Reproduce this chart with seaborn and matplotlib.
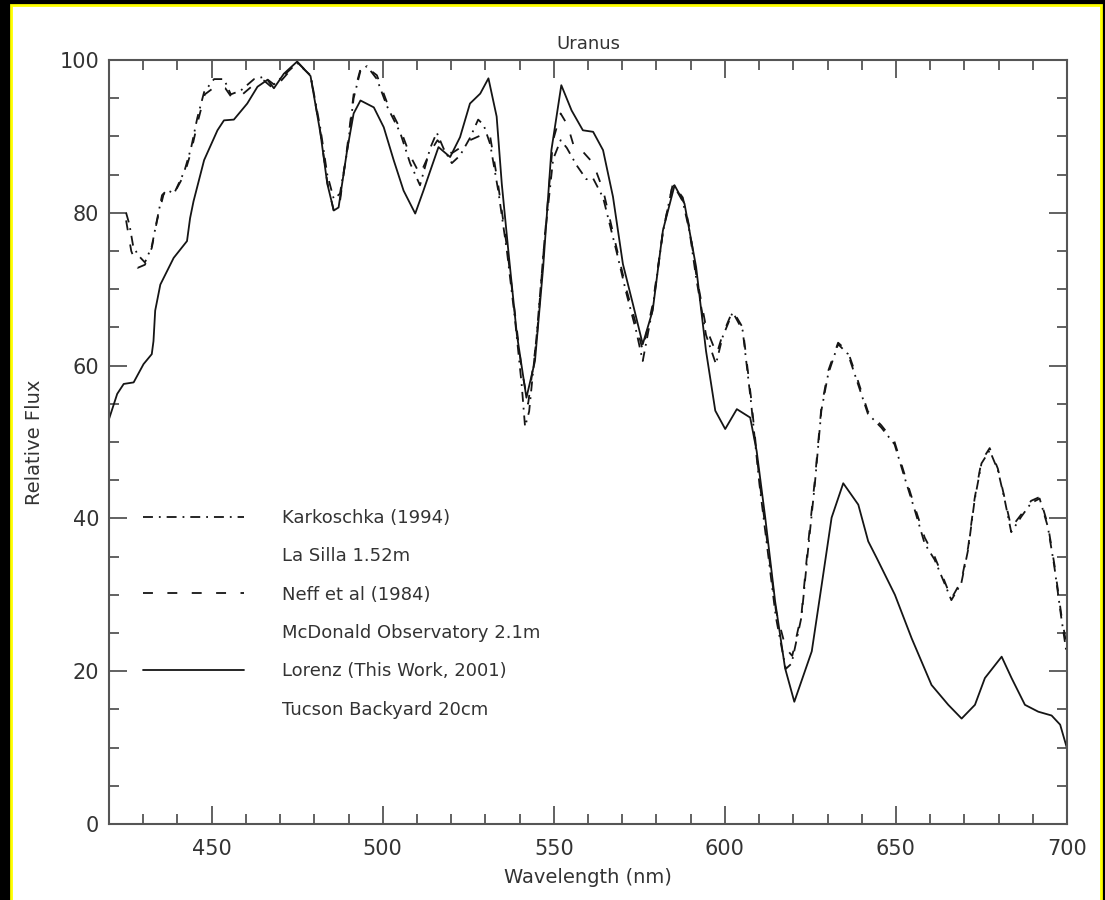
import numpy as np
import pandas as pd
import matplotlib
matplotlib.use("Agg")
import matplotlib.pyplot as plt
from matplotlib.lines import Line2D
from matplotlib.patches import Rectangle
from matplotlib.ticker import MultipleLocator
import seaborn as sns

# ---------------- data ----------------
wl_lorenz = [420, 422.4, 424.3, 427.2, 430.1, 432.5, 433.0, 433.5, 435.0, 438.9, 442.8, 443.7,
             444.7, 447.8, 451.7, 453.6, 456.5, 460.4, 463.4, 466.3, 468.2, 471.1, 475.0, 478.9,
             481.8, 483.8, 485.7, 487.1, 489.6, 491.5, 493.5, 497.4, 500.3, 503.2, 506.1, 509.5,
             511.9, 513.9, 516.3, 519.7, 522.6, 525.5, 528.5, 530.9, 533.3, 534.8, 536.7, 539.2,
             542.0, 544.5, 546.9, 549.3, 552.2, 555.2, 558.5, 561.5, 564.4, 567.3, 570.2, 573.1,
             576.0, 578.9, 581.9, 585.3, 588.2, 591.6, 594.5, 597.2, 600.1, 603.5, 607.4, 609.3,
             611.8, 614.7, 617.6, 620.3, 625.4, 628.3, 631.2, 634.6, 639.0, 641.9, 644.4, 649.7,
             654.6, 660.4, 665.3, 669.2, 673.1, 676.0, 680.9, 683.8, 687.7, 691.6, 695.5, 698.0,
             700.0]
flux_lorenz = [53.0, 56.3, 57.6, 57.8, 60.2, 61.5, 63.2, 67.2, 70.6, 74.1, 76.3, 79.3,
               81.5, 86.9, 90.8, 92.1, 92.2, 94.3, 96.5, 97.4, 96.3, 98.2, 99.8, 97.9,
               90.4, 83.8, 80.3, 80.7, 88.2, 93.0, 94.7, 93.8, 91.2, 86.9, 82.9, 79.9,
               82.9, 85.5, 88.6, 87.3, 89.9, 94.3, 95.6, 97.6, 92.6, 83.8, 75.1, 64.1,
               55.8, 60.6, 72.9, 88.2, 96.7, 93.4, 90.8, 90.6, 88.2, 82.1, 73.3, 68.1,
               62.8, 67.2, 77.7, 83.6, 81.2, 72.9, 61.9, 54.1, 51.7, 54.3, 53.2, 48.8,
               40.1, 29.1, 20.4, 16.0, 22.6, 31.3, 40.1, 44.6, 41.8, 37.0, 34.8, 30.0,
               24.3, 18.2, 15.6, 13.8, 15.6, 19.1, 21.9, 19.1, 15.6, 14.7, 14.2, 13.0,
               9.9]

wl_karkoschka = [425.0, 426.0, 427.0, 428.4, 430.5, 432.5, 434.0, 435.5, 437.0, 439.0, 442.0,
                 444.0, 445.8, 447.8, 450.7, 453.6, 455.6, 458.5, 462.4, 465.3, 468.2, 472.1,
                 475.0, 478.9, 481.8, 483.8, 485.7, 487.5, 489.6, 491.5, 493.5, 495.4, 498.3,
                 501.2, 505.1, 508.0, 510.9, 513.9, 515.8, 517.8, 520.2, 522.6, 525.5, 527.9,
                 529.5, 531.4, 533.8, 536.3, 538.6, 540.6, 541.6, 542.8, 545.0, 547.4, 549.8,
                 552.0, 553.8, 556.7, 559.5, 561.5, 564.4, 568.3, 571.2, 574.1, 576.0, 578.9,
                 581.9, 584.8, 587.7, 589.7, 591.6, 594.5, 597.4, 599.3, 602.3, 605.2, 607.6,
                 610.1, 612.5, 614.9, 617.8, 619.5, 622.4, 624.3, 626.3, 628.2, 630.2, 633.1,
                 636.0, 638.9, 641.8, 645.7, 649.6, 652.5, 655.5, 658.4, 661.3, 664.2, 666.2,
                 669.1, 671.1, 673.0, 675.0, 677.4, 679.8, 681.8, 683.7, 686.6, 689.5, 692.0,
                 694.4, 696.3, 698.3, 700.0]
flux_karkoschka = [80.0, 78.4, 75.8, 74.5, 73.5, 75.6, 79.0, 82.3, 83.0, 82.5, 85.4,
                   88.5, 92.4, 95.8, 97.5, 97.5, 95.5, 96.0, 97.5, 97.8, 96.8, 98.4,
                   99.6, 98.0, 91.0, 85.0, 81.8, 82.5, 88.0, 95.0, 98.6, 99.2, 97.5,
                   94.0, 90.5, 86.5, 83.6, 88.5, 90.5, 88.4, 86.5, 87.5, 89.8, 92.2,
                   91.5, 89.0, 82.8, 75.0, 66.3, 57.6, 52.0, 54.0, 64.0, 77.0, 87.0,
                   89.5, 88.5, 86.2, 84.4, 84.5, 82.0, 75.0, 69.5, 64.5, 60.6, 67.5,
                   77.5, 83.8, 81.5, 77.5, 71.5, 64.0, 60.2, 63.7, 67.0, 64.6, 55.4,
                   44.5, 35.8, 27.1, 20.3, 21.0, 27.1, 35.8, 44.5, 54.1, 58.9, 62.8,
                   61.5, 57.6, 53.7, 51.9, 49.7, 45.4, 41.1, 36.7, 34.6, 31.5, 29.3,
                   31.5, 35.9, 42.4, 47.2, 48.9, 46.3, 42.4, 38.2, 40.2, 42.0, 42.6,
                   38.9, 33.7, 27.1, 22.0]

wl_neff = [425.0, 426.5, 428.4, 430.5, 432.5, 434.0, 436.0, 439.0, 442.0, 444.0, 446.0,
           448.0, 451.0, 454.0, 456.0, 459.0, 462.4, 465.3, 468.2, 472.1, 475.0, 478.9,
           481.8, 483.8, 485.7, 487.3, 489.6, 491.5, 493.5, 495.4, 498.3, 501.2, 505.1,
           508.0, 510.9, 513.9, 516.0, 518.0, 520.2, 522.6, 525.5, 528.0, 530.5, 531.4,
           533.8, 536.3, 538.6, 540.6, 542.5, 545.0, 547.4, 549.8, 552.0, 554.0, 556.0,
           558.5, 561.5, 564.4, 568.3, 571.2, 574.1, 576.0, 578.9, 581.9, 584.8, 587.7,
           589.7, 591.6, 594.5, 597.6, 599.3, 602.3, 605.2, 607.6, 610.1, 612.5, 614.9,
           617.8, 619.7, 622.4, 624.3, 626.3, 628.2, 630.2, 633.1, 636.0, 638.9, 641.8,
           645.7, 649.6, 652.5, 655.5, 658.4, 661.3, 664.2, 666.2, 669.1, 671.1, 673.0,
           675.0, 677.4, 679.8, 681.8, 683.7, 686.6, 689.5, 692.0, 694.4, 696.3, 698.3,
           700.0]
flux_neff = [79.0, 75.0, 72.8, 73.2, 75.4, 78.9, 82.5, 82.5, 85.0, 88.0, 92.0,
             95.5, 96.5, 96.3, 95.0, 95.5, 96.8, 97.3, 96.2, 98.2, 99.7, 98.0,
             90.5, 84.0, 80.2, 80.8, 88.5, 95.5, 98.8, 99.0, 98.0, 94.5, 91.0,
             87.5, 85.0, 88.0, 89.5, 88.5, 87.8, 88.5, 89.5, 90.0, 90.5, 90.0,
             83.5, 75.5, 67.0, 59.5, 55.0, 63.5, 77.0, 89.5, 93.0, 91.5, 88.5,
             88.0, 86.5, 83.0, 75.5, 70.0, 65.3, 62.0, 68.0, 77.5, 83.8, 82.0,
             78.0, 72.0, 65.0, 61.5, 64.0, 67.2, 65.0, 56.0, 45.0, 36.5, 28.0,
             23.0, 22.0, 27.5, 36.5, 45.0, 54.5, 59.3, 63.0, 61.8, 58.0, 54.0,
             52.2, 50.0, 45.8, 41.5, 37.5, 35.0, 31.8, 29.5, 31.8, 36.2, 42.6,
             47.5, 49.2, 46.5, 42.6, 38.8, 40.5, 42.3, 42.8, 39.2, 34.0, 27.5,
             23.0]

legend_labels = ["Karkoschka (1994)", "La Silla 1.52m", "Neff et al (1984)",
                 "McDonald Observatory 2.1m", "Lorenz (This Work, 2001)", "Tucson Backyard 20cm"]
title = "Uranus"
xlabel = "Wavelength (nm)"
ylabel = "Relative Flux"

# ---------------- styling ----------------
sns.set_theme(style="ticks")
plt.rcParams["font.family"] = ["DejaVu Sans"]
TXT = "#333333"
LINE = "#151515"
SPINE = "#555555"

W, H = 1105, 900
fig = plt.figure(figsize=(W / 100, H / 100), dpi=100, facecolor="black")
fig.patches.append(Rectangle((11 / W, -0.02), 1090 / W, (H - 5) / H + 0.02,
                             transform=fig.transFigure, facecolor="white",
                             edgecolor="#ffff00", linewidth=2, zorder=-10))

ax = fig.add_axes([109 / W, (H - 824) / H, 958 / W, 764 / H])
ax.set_zorder(5)
ax.set_facecolor("white")

df_k = pd.DataFrame({"wl": wl_karkoschka, "flux": flux_karkoschka})
df_n = pd.DataFrame({"wl": wl_neff, "flux": flux_neff})
df_l = pd.DataFrame({"wl": wl_lorenz, "flux": flux_lorenz})

ls_k = (0, (5.5, 3.3, 1.0, 3.3))
ls_n = (0, (5.5, 8.0))
lw = 1.3

sns.lineplot(data=df_k, x="wl", y="flux", ax=ax, color=LINE, linewidth=lw,
             linestyle=ls_k, estimator=None, sort=False)
sns.lineplot(data=df_n, x="wl", y="flux", ax=ax, color=LINE, linewidth=lw,
             linestyle=ls_n, estimator=None, sort=False)
sns.lineplot(data=df_l, x="wl", y="flux", ax=ax, color=LINE, linewidth=lw,
             linestyle="-", estimator=None, sort=False)

ax.set_xlim(420, 700)
ax.set_ylim(0, 100)
ax.xaxis.set_major_locator(MultipleLocator(50))
ax.xaxis.set_minor_locator(MultipleLocator(10))
ax.yaxis.set_major_locator(MultipleLocator(20))
ax.yaxis.set_minor_locator(MultipleLocator(5))

ax.tick_params(which="both", direction="in", top=True, right=True,
               color=SPINE, labelcolor=TXT, labelsize=15, width=1.3)
ax.tick_params(axis="x", which="both", pad=11)
ax.tick_params(axis="y", which="both", pad=7)
ax.tick_params(which="major", length=13)
ax.tick_params(which="minor", length=7)
for s in ax.spines.values():
    s.set_color(SPINE)
    s.set_linewidth(1.5)

ax.set_title(title, fontsize=13, color=TXT, pad=8)
ax.set_xlabel(xlabel, fontsize=14, color=TXT, labelpad=6)
ax.set_ylabel(ylabel, fontsize=14, color=TXT, labelpad=11)

handles = [Line2D([], [], color=LINE, lw=lw, linestyle=ls_k),
           Line2D([], [], linestyle="none"),
           Line2D([], [], color=LINE, lw=lw, linestyle=ls_n),
           Line2D([], [], linestyle="none"),
           Line2D([], [], color=LINE, lw=lw, linestyle="-"),
           Line2D([], [], linestyle="none")]
leg = ax.legend(handles, legend_labels, loc="upper left", bbox_to_anchor=(0.0355, 0.4125),
                frameon=False, fontsize=13, handlelength=5.6, handletextpad=2.1,
                labelspacing=1.13, borderpad=0, borderaxespad=0)
for t in leg.get_texts():
    t.set_color(TXT)

fig.savefig("out.png", dpi=100, facecolor=fig.get_facecolor())
